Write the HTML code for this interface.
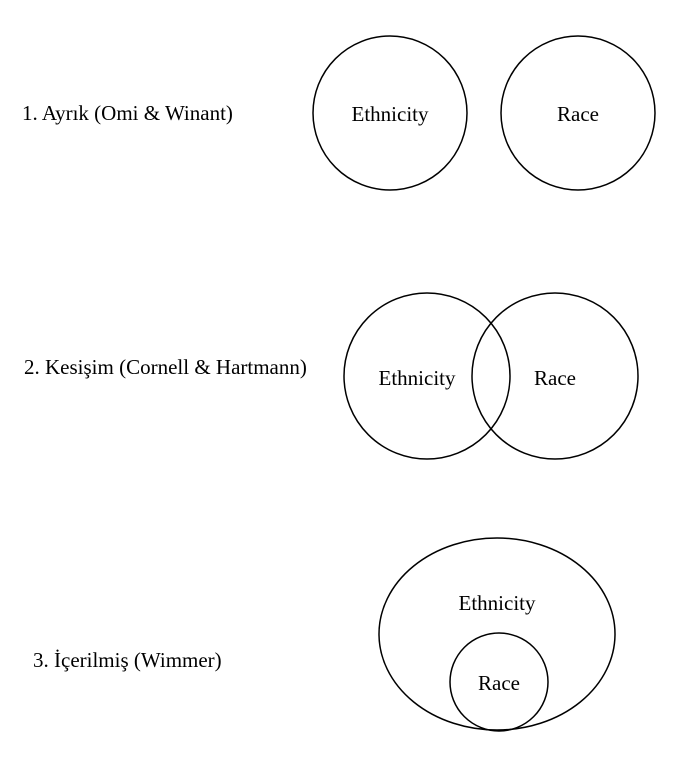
<!DOCTYPE html>
<html><head><meta charset="utf-8"><style>
html,body{margin:0;padding:0;background:#fff;}
svg{display:block;}
text{font-family:"Liberation Serif",serif;font-size:21px;fill:#000;}
</style></head><body>
<svg width="679" height="768" viewBox="0 0 679 768" xmlns="http://www.w3.org/2000/svg">
<g fill="none" stroke="#000" stroke-width="1.5">
<circle cx="390" cy="113" r="77"/>
<circle cx="578" cy="113" r="77"/>
<circle cx="427" cy="376" r="83"/>
<circle cx="555" cy="376" r="83"/>
<ellipse cx="497" cy="634" rx="118" ry="96"/>
<circle cx="499" cy="682" r="49"/>
</g>
<text x="22" y="120">1. Ayrık (Omi &amp; Winant)</text>
<text x="390" y="121" text-anchor="middle">Ethnicity</text>
<text x="578" y="121" text-anchor="middle">Race</text>
<text x="24" y="374">2. Kesişim (Cornell &amp; Hartmann)</text>
<text x="417" y="385" text-anchor="middle">Ethnicity</text>
<text x="555" y="385" text-anchor="middle">Race</text>
<text x="33" y="667">3. İçerilmiş (Wimmer)</text>
<text x="497" y="610" text-anchor="middle">Ethnicity</text>
<text x="499" y="690" text-anchor="middle">Race</text>
</svg>
</body></html>
